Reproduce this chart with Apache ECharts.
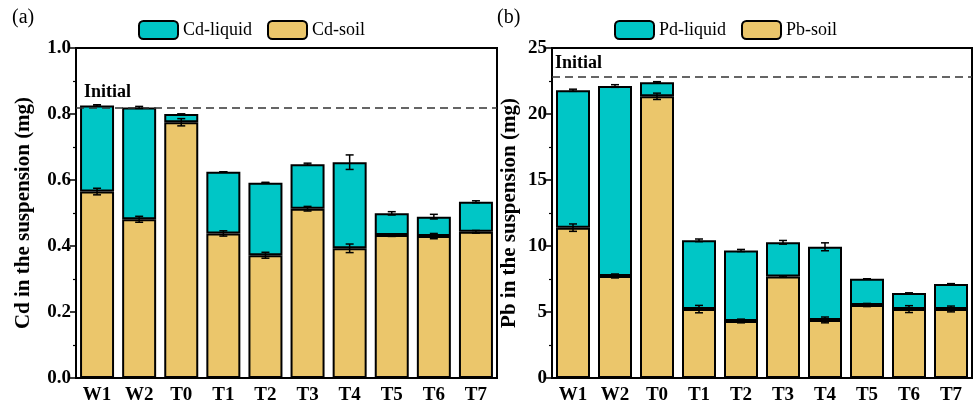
<!DOCTYPE html>
<html>
<head>
<meta charset="utf-8">
<script src="https://cdn.jsdelivr.net/npm/echarts@6/dist/echarts.min.js"></script>
<style>
html,body{margin:0;padding:0;background:#fff;}
#chart{width:976px;height:408px;}
</style>
</head>
<body>
<div id="chart"></div>
<script>
// ---- data ----
const categories = ['W1', 'W2', 'T0', 'T1', 'T2', 'T3', 'T4', 'T5', 'T6', 'T7'];

const cdSoil   = [0.565, 0.481, 0.775, 0.438, 0.372, 0.513, 0.393, 0.433, 0.430, 0.443];
const cdLiquid = [0.261, 0.339, 0.025, 0.187, 0.220, 0.135, 0.261, 0.066, 0.059, 0.091];
const cdSoilErr  = [0.010, 0.009, 0.011, 0.008, 0.009, 0.007, 0.013, 0.004, 0.008, 0.004];
const cdTotalErr = [0.002, 0.003, 0.000, 0.000, 0.001, 0.003, 0.022, 0.005, 0.007, 0.003];
const cdInitial = 0.823;

const pbSoil   = [11.39, 7.73, 21.34, 5.22, 4.32, 7.68, 4.40, 5.53, 5.22, 5.23];
const pbLiquid = [10.41, 14.39, 1.06, 5.21, 5.34, 2.60, 5.54, 1.99, 1.22, 1.89];
const pbSoilErr  = [0.28, 0.15, 0.24, 0.28, 0.14, 0.05, 0.22, 0.12, 0.26, 0.22];
const pbTotalErr = [0.08, 0.10, 0.05, 0.10, 0.08, 0.14, 0.30, 0.00, 0.00, 0.03];
const pbInitial = 22.83;

const cdTicks = { min: 0, max: 1.0, interval: 0.2 };
const pbTicks = { min: 0, max: 25, interval: 5 };

// ---- styles ----
const FONT = '"Liberation Serif", "Times New Roman", serif';
const CYAN = '#00C6C6';
const GOLD = '#EBC66B';

function errData(soil, liquid, soilErr, totalErr) {
  const out = [];
  soil.forEach((s, i) => {
    out.push([i, s, soilErr[i]]);
    out.push([i, s + liquid[i], totalErr[i]]);
  });
  return out;
}

function errRender(params, api) {
  const x = api.value(0), c = api.value(1), e = api.value(2);
  const hi = api.coord([x, c + e]);
  const lo = api.coord([x, c - e]);
  const w = 4;
  const st = { stroke: '#000', lineWidth: 1.5 };
  return {
    type: 'group',
    children: [
      { type: 'line', shape: { x1: hi[0], y1: hi[1], x2: lo[0], y2: lo[1] }, style: st },
      { type: 'line', shape: { x1: hi[0] - w, y1: hi[1], x2: hi[0] + w, y2: hi[1] }, style: st },
      { type: 'line', shape: { x1: lo[0] - w, y1: lo[1], x2: lo[0] + w, y2: lo[1] }, style: st }
    ]
  };
}

function xAxisCfg(gi) {
  return {
    type: 'category', gridIndex: gi, data: categories,
    axisLine: { lineStyle: { color: '#000', width: 2 } },
    axisTick: { alignWithLabel: true, length: 5, lineStyle: { color: '#000', width: 1.5 } },
    axisLabel: { color: '#000', fontFamily: FONT, fontWeight: 'bold', fontSize: 19, margin: 8 }
  };
}
function yAxisCfg(gi, t, name, gap) {
  return {
    type: 'value', gridIndex: gi, min: t.min, max: t.max, interval: t.interval,
    name: name, nameLocation: 'middle', nameGap: gap,
    nameTextStyle: { color: '#000', fontFamily: FONT, fontWeight: 'bold', fontSize: 21 },
    axisLine: { show: true, lineStyle: { color: '#000', width: 2 } },
    axisTick: { show: true, length: 6, lineStyle: { color: '#000', width: 1.5 } },
    minorTick: { show: true, splitNumber: 2, length: 3, lineStyle: { color: '#000', width: 1.2 } },
    splitLine: { show: false },
    axisLabel: {
      color: '#000', fontFamily: FONT, fontWeight: 'bold', fontSize: 19, margin: 5,
      formatter: v => (t.interval < 1 ? v.toFixed(1) : String(v))
    }
  };
}

function barSeries(name, data, gi, color, mark) {
  const s = {
    name: name, type: 'bar', stack: 's' + gi, xAxisIndex: gi, yAxisIndex: gi,
    data: data, barWidth: 34,
    itemStyle: { color: color, borderColor: '#000', borderWidth: 2 }
  };
  if (mark) s.markLine = mark;
  return s;
}

function initialLine(v, dist) {
  return {
    silent: true, symbol: 'none',
    lineStyle: { color: '#333', type: [8, 5], width: 1.5 },
    label: {
      show: true, formatter: 'Initial', position: 'insideStartTop', distance: dist,
      color: '#000', fontFamily: FONT, fontWeight: 'bold', fontSize: 18
    },
    data: [{ yAxis: v }]
  };
}

const chart = echarts.init(document.getElementById('chart'));
chart.setOption({
  animation: false,
  backgroundColor: '#fff',
  textStyle: { fontFamily: FONT },
  grid: [
    { left: 76, right: 479, top: 48, bottom: 30, show: true, borderColor: '#000', borderWidth: 2 },
    { left: 552, right: 4, top: 48, bottom: 30, show: true, borderColor: '#000', borderWidth: 2 }
  ],
  legend: [
    { left: 138, top: 20, padding: 0, itemWidth: 39, itemHeight: 18, itemGap: 15,
      data: ['Cd-liquid', 'Cd-soil'],
      textStyle: { color: '#000', fontFamily: FONT, fontSize: 18 } },
    { left: 614, top: 20, padding: 0, itemWidth: 39, itemHeight: 18, itemGap: 15,
      data: ['Pd-liquid', 'Pb-soil'],
      textStyle: { color: '#000', fontFamily: FONT, fontSize: 18 } }
  ],
  graphic: [
    { type: 'text', left: 12, top: 8, style: { text: '(a)', font: '20px ' + FONT, fill: '#000' } },
    { type: 'text', left: 497, top: 8, style: { text: '(b)', font: '20px ' + FONT, fill: '#000' } }
  ],
  xAxis: [xAxisCfg(0), xAxisCfg(1)],
  yAxis: [
    yAxisCfg(0, cdTicks, 'Cd in the suspension (mg)', 42),
    yAxisCfg(1, pbTicks, 'Pb in the suspension (mg)', 32)
  ],
  series: [
    barSeries('Cd-soil', cdSoil, 0, GOLD, initialLine(cdInitial, [8, 6])),
    barSeries('Cd-liquid', cdLiquid, 0, CYAN),
    { type: 'custom', xAxisIndex: 0, yAxisIndex: 0, z: 10, renderItem: errRender,
      data: errData(cdSoil, cdLiquid, cdSoilErr, cdTotalErr) },
    barSeries('Pb-soil', pbSoil, 1, GOLD, initialLine(pbInitial, [3, 4])),
    barSeries('Pd-liquid', pbLiquid, 1, CYAN),
    { type: 'custom', xAxisIndex: 1, yAxisIndex: 1, z: 10, renderItem: errRender,
      data: errData(pbSoil, pbLiquid, pbSoilErr, pbTotalErr) }
  ]
});
</script>
</body>
</html>
